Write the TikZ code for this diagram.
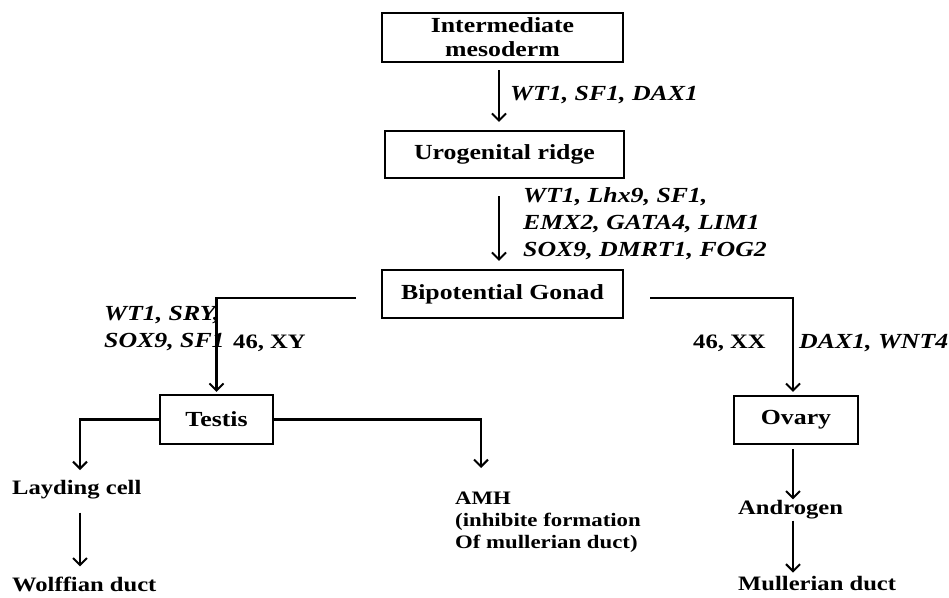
\documentclass[tikz,border=0pt]{standalone}
\usepackage{fontspec}
\setmainfont{Liberation Serif}[FakeStretch=1.2]
\usetikzlibrary{arrows.meta}
\begin{document}
\begin{tikzpicture}[x=1pt,y=-1pt,
  box/.style={draw, line width=2.2pt, font=\fontsize{21.5}{24}\selectfont\bfseries, align=center, inner sep=0pt},
  lab/.style={font=\fontsize{20.5}{22}\selectfont\bfseries, inner sep=0pt, anchor=west, align=left},
  small/.style={font=\fontsize{19}{22}\selectfont\bfseries, inner sep=0pt, anchor=west, align=left},
  gene/.style={font=\fontsize{21.5}{27}\selectfont\bfseries\itshape, inner sep=0pt, anchor=west, align=left},
  arr/.style={line width=2.2pt, -{Straight Barb[length=7pt,width=14pt,line width=2pt]}}]
\useasboundingbox[fill=white] (0,0) rectangle (949,597);
% boxes
\node[box, minimum width=241pt, minimum height=49pt] (im) at (502.5,37.5) {Intermediate\\mesoderm};
\node[box, minimum width=239pt, minimum height=47pt] (ur) at (504.5,154.5) {Urogenital ridge};
\node[box, minimum width=241pt, minimum height=48pt] (bg) at (502.5,294) {Bipotential Gonad};
\node[box, minimum width=113pt, minimum height=49pt] (te) at (216.5,419.5) {Testis};
\node[box, minimum width=124pt, minimum height=48pt] (ov) at (796,420) {Ovary};
% gene labels
\node[gene] (g1) at (510,95) {WT1, SF1, DAX1};
\node[gene] (g2) at (523,224) {WT1, Lhx9, SF1,\\EMX2, GATA4, LIM1\\SOX9, DMRT1, FOG2};
\node[gene] (g3) at (104,329) {WT1, SRY,\\SOX9, SF1};
\node[gene] (g4) at (799,343) {DAX1, WNT4};
\node[lab] (xy) at (233,343) {46, XY};
\node[lab] (xx) at (693,343) {46, XX};
% outcome labels
\node[lab] (ly) at (12,490) {Layding cell};
\node[lab] (wd) at (12,584) {Wolffian duct};
\node[small] (amh) at (455,522) {AMH\\(inhibite formation\\Of mullerian duct)};
\node[lab] (an) at (738,510) {Androgen};
\node[lab] (md) at (738,584) {Mullerian duct};
% connectors
\coordinate (mx) at (499,0);
\coordinate (ax) at (793,0);
\coordinate (lx) at (80,0);
\coordinate (c1) at (356,298);
\coordinate (c2) at (650,298);
\coordinate (tl) at (80,470);
\coordinate (tr) at (481,468);
\draw[arr, shorten <=7pt, shorten >=8pt] (im.south -| mx) -- (ur.north -| mx);
\draw[arr, shorten <=17pt, shorten >=8pt] (ur.south -| mx) -- (bg.north -| mx);
\draw[arr, shorten >=2pt] (c1) -| (te.north);
\draw[arr, shorten >=3pt] (c2) -| (ov.north -| ax);
\draw[arr] (te.west) -| (tl);
\draw[arr] (te.east) -| (tr);
\draw[arr, shorten <=4pt, shorten >=1pt] (ov.south -| ax) -- (an.north -| ax);
\draw[arr, shorten <=1pt, shorten >=4pt] (an.south -| ax) -- (md.north -| ax);
\draw[arr, shorten <=13pt, shorten >=10pt] (ly.south -| lx) -- (wd.north -| lx);
\end{tikzpicture}
\end{document}
